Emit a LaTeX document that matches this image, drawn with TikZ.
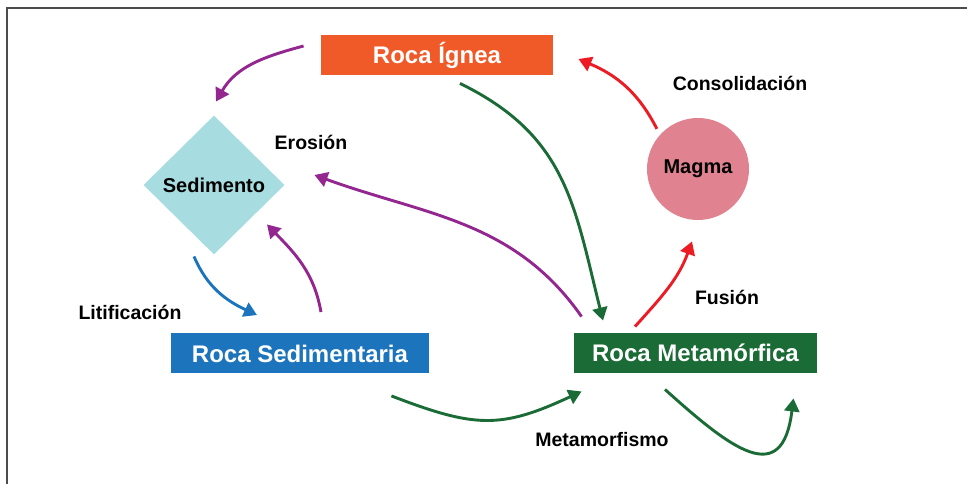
\documentclass[tikz,border=0pt]{standalone}
\usepackage{fontspec}
\setmainfont{Liberation Sans}
\usetikzlibrary{arrows.meta,shapes.geometric}

\definecolor{igneo}{HTML}{EF5A28}
\definecolor{sedcyan}{HTML}{A7DDE0}
\definecolor{magmapink}{HTML}{E0828F}
\definecolor{sedblue}{HTML}{1C75BC}
\definecolor{metgreen}{HTML}{1A6B36}
\definecolor{arrpurple}{HTML}{93278F}
\definecolor{arrred}{HTML}{ED1C24}

\begin{document}
\begin{tikzpicture}[->,>={Triangle[width=15pt,length=13pt]},x=1pt,y=1pt,line width=2.9pt]

    \tikzstyle{rock}=[rectangle, text=white, font=\bfseries\fontsize{24}{24}\selectfont, minimum height=40pt, inner sep=0pt]
    \tikzstyle{inner}=[text=black, font=\bfseries\fontsize{20}{20}\selectfont, inner sep=0pt]
    \tikzstyle{proc}=[text=black, font=\bfseries\fontsize{19.5}{19.5}\selectfont, inner sep=0pt]
    \tikzstyle{erode}=[draw=arrpurple]
    \tikzstyle{melt}=[draw=arrred]
    \tikzstyle{heat}=[draw=metgreen]
    \tikzstyle{press}=[draw=sedblue]

    \useasboundingbox (0,0) rectangle (967,484);
    \draw[-, line width=1.3pt, black!70] (967,476) -- (7,476) -- (7,0);

    \node[rock, fill=igneo, minimum width=232pt]        (ignea)        at (437,429)   {Roca Ígnea};
    \node[rock, fill=sedblue, minimum width=258pt]      (sedimentaria) at (300,130.5) {Roca Sedimentaria};
    \node[rock, fill=metgreen, minimum width=243pt]     (metamorfica)  at (695.5,131) {Roca Metamórfica};
    \node[inner, diamond, aspect=1, fill=sedcyan, minimum width=142pt, minimum height=140pt] (sedimento) at (214,299) {Sedimento};
    \node[inner, circle, fill=magmapink, minimum size=102pt] (magma) at (698,315) {Magma};

    \node[proc] (erosion)      at (311,342) {Erosión};
    \node[proc] (consolidacion) at (740,401) {Consolidación};
    \node[proc] (fusion)       at (727,187) {Fusión};
    \node[proc] (litificacion) at (130,172) {Litificación};
    \node[proc] (metamorfismo) at (602,44)  {Metamorfismo};

    \path ([xshift=-16pt,yshift=9pt]ignea.west) edge[erode, out=195, in=60] ([xshift=2pt,yshift=12pt]sedimento.north)
          ([xshift=23pt,yshift=-7pt]ignea.south) edge[heat, out=-26, in=104, looseness=1.1] ([xshift=-92.5pt,yshift=11pt]metamorfica.north)
          ([xshift=9pt,yshift=15pt]metamorfica.north west) edge[erode, out=125, in=-20] ([xshift=28pt,yshift=10pt]sedimento.east)
          ([xshift=21pt,yshift=20pt]sedimentaria.north) edge[erode, out=100, in=-46] ([xshift=53pt,yshift=32pt]sedimento.south)
          ([xshift=-20pt]sedimento.south) edge[press, out=-67, in=155] ([xshift=-43pt,yshift=17pt]sedimentaria.north)
          ([xshift=-60.5pt,yshift=5pt]metamorfica.north) edge[melt, out=48, in=-110] ([xshift=-6pt,yshift=-20pt]magma.south)
          ([xshift=-4pt,yshift=3pt]magma.135) edge[melt, out=117, in=-23] ([xshift=24pt,yshift=-4pt]ignea.east)
          ([xshift=-39pt,yshift=-21pt]sedimentaria.south east) edge[heat, out=-21, in=-155, looseness=1.2] ([xshift=9pt,yshift=-17pt]metamorfica.south west)
          ([xshift=-30.5pt,yshift=-15pt]metamorfica.south) edge[heat, out=-42, in=-97, looseness=1.8] ([xshift=-25pt,yshift=-24pt]metamorfica.south east)
    ;
\end{tikzpicture}
\end{document}
